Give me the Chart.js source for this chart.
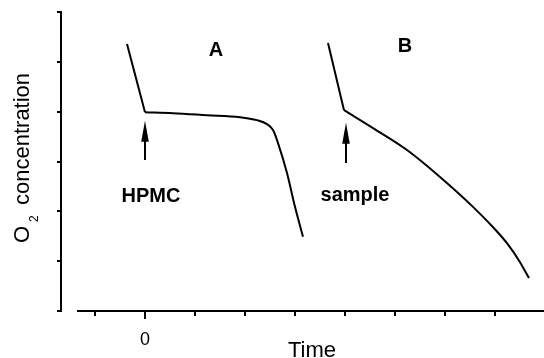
<!DOCTYPE html>
<html>
<head>
<meta charset="utf-8">
<script src="https://cdn.jsdelivr.net/npm/chart.js@4.4.1/dist/chart.umd.min.js"></script>
<style>
  html, body { margin: 0; padding: 0; background: #fff; }
  #wrap { width: 544px; height: 358px; }
</style>
</head>
<body>
<div id="wrap"><canvas id="chart"></canvas></div>
<script>
// Trace A (HPMC added at time 0): fast fall before addition, then the slow run
const traceAStartX = [-0.36, 0];
const traceAStartY = [5.36, 3.99];
const traceAX = [0, 0.56, 1.24, 1.90, 2.24, 2.44, 2.56, 2.66, 2.84, 3.0, 3.16];
const traceAY = [3.99, 3.97, 3.93, 3.89, 3.83, 3.75, 3.63, 3.37, 2.77, 2.09, 1.49];

// Trace B (sample added)
const traceBStartX = [3.66, 3.98];
const traceBStartY = [5.38, 4.03];
const traceBX = [3.98, 4.56, 5.24, 5.90, 6.56, 7.00, 7.24, 7.50, 7.68];
const traceBY = [4.03, 3.67, 3.23, 2.69, 2.09, 1.64, 1.36, 0.98, 0.66];

// addition arrows: time, tail level, tip level
const arrowX = [0, 4.02];
const arrowTail = [3.03, 2.97];
const arrowTip = [3.82, 3.78];

const panelLabels = ['A', 'B'];
const additionLabels = ['HPMC', 'sample'];
const xTickLabels = { 0: '0' };

const FONT = "'Liberation Sans', Arial, Helvetica, sans-serif";
Chart.defaults.font.family = FONT;
Chart.defaults.color = '#000';

function pts(xs, ys) {
  return xs.map((x, i) => ({ x: x, y: ys[i] }));
}

function lineSet(xs, ys, smooth) {
  return {
    data: pts(xs, ys),
    borderColor: '#000',
    borderWidth: 2,
    pointRadius: 0,
    fill: false,
    cubicInterpolationMode: smooth ? 'monotone' : 'default',
    tension: 0
  };
}

// arrows, axis line and the text annotations
const decor = {
  id: 'decor',
  afterDraw(chart) {
    const ctx = chart.ctx;
    const xs = chart.scales.x, ys = chart.scales.y;
    const area = chart.chartArea;
    ctx.save();

    // x axis line (starts a little right of the y axis)
    ctx.strokeStyle = '#000';
    ctx.lineWidth = 2.2;
    ctx.beginPath();
    ctx.moveTo(xs.getPixelForValue(-1.36), area.bottom);
    ctx.lineTo(area.right, area.bottom);
    ctx.stroke();
    // slightly longer tick at 0
    ctx.lineWidth = 2;
    ctx.beginPath();
    ctx.moveTo(xs.getPixelForValue(0), area.bottom);
    ctx.lineTo(xs.getPixelForValue(0), area.bottom + 8);
    ctx.stroke();

    // arrows
    ctx.fillStyle = '#000';
    arrowX.forEach((t, i) => {
      const px = xs.getPixelForValue(t);
      const tail = ys.getPixelForValue(arrowTail[i]);
      const tip = ys.getPixelForValue(arrowTip[i]);
      ctx.lineWidth = 2;
      ctx.beginPath();
      ctx.moveTo(px, tail);
      ctx.lineTo(px, tip + 15);
      ctx.stroke();
      ctx.beginPath();
      ctx.moveTo(px, tip);
      ctx.lineTo(px - 3.8, tip + 21);
      ctx.lineTo(px + 3.8, tip + 21);
      ctx.closePath();
      ctx.fill();
    });

    // bold labels
    ctx.font = 'bold 20px ' + FONT;
    ctx.textAlign = 'center';
    ctx.textBaseline = 'middle';
    ctx.fillText(panelLabels[0], xs.getPixelForValue(1.42), ys.getPixelForValue(5.22));
    ctx.fillText(panelLabels[1], xs.getPixelForValue(5.2), ys.getPixelForValue(5.3));
    ctx.fillText(additionLabels[0], xs.getPixelForValue(0.12), ys.getPixelForValue(2.29));
    ctx.fillText(additionLabels[1], xs.getPixelForValue(4.2), ys.getPixelForValue(2.31));

    // x title
    ctx.font = '22px ' + FONT;
    ctx.textBaseline = 'alphabetic';
    ctx.fillText('Time', 312, 357);

    // y title with subscript
    ctx.translate(29, 243);
    ctx.rotate(-Math.PI / 2);
    ctx.textAlign = 'left';
    ctx.font = '22px ' + FONT;
    ctx.fillText('O', 0, 0);
    ctx.font = '12px ' + FONT;
    ctx.fillText('2', 21, 9);
    ctx.font = '22px ' + FONT;
    ctx.fillText('concentration', 38, 0);

    ctx.restore();
  }
};

new Chart(document.getElementById('chart'), {
  type: 'line',
  data: {
    datasets: [
      lineSet(traceAStartX, traceAStartY, false),
      lineSet(traceAX, traceAY, true),
      lineSet(traceBStartX, traceBStartY, false),
      lineSet(traceBX, traceBY, true)
    ]
  },
  options: {
    responsive: true,
    maintainAspectRatio: false,
    animation: false,
    layout: { padding: { top: 12, left: 0, right: 0, bottom: 0 } },
    plugins: { legend: { display: false }, tooltip: { enabled: false } },
    scales: {
      x: {
        type: 'linear',
        min: -1.68,
        max: 7.98,
        afterFit: s => { s.height = 47; },
        border: { display: false },
        grid: { drawOnChartArea: false, drawTicks: true, tickLength: 5, color: '#000', lineWidth: 2 },
        ticks: {
          stepSize: 1,
          includeBounds: false,
          autoSkip: false,
          maxRotation: 0,
          padding: 13,
          font: { size: 18 },
          color: '#000',
          callback: v => xTickLabels[v] || ''
        }
      },
      y: {
        type: 'linear',
        min: 0,
        max: 6,
        afterFit: s => { s.width = 61; },
        border: { display: true, color: '#000', width: 2 },
        grid: { drawOnChartArea: false, drawTicks: true, tickLength: 4, color: '#000', lineWidth: 2 },
        ticks: { stepSize: 1, callback: () => '' }
      }
    }
  },
  plugins: [decor]
});
</script>
</body>
</html>
